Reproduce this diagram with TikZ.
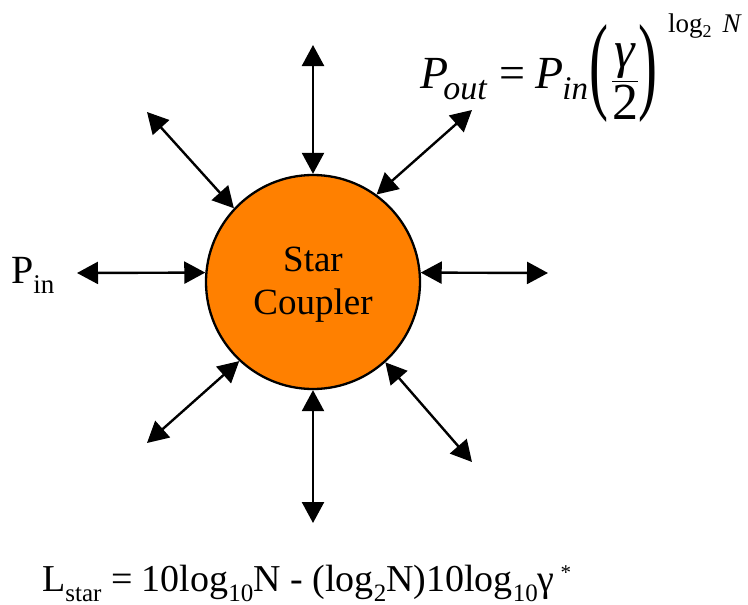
\documentclass[tikz,border=0pt]{standalone}
\usepackage{amsmath}
\usepackage{graphicx}
\usepackage{fontspec}
\setmainfont{Liberation Serif}
\usetikzlibrary{arrows.meta}
\definecolor{starorange}{HTML}{FF8000}
\newcommand\fsz[1]{\fontsize{#1}{#1}\selectfont}
\newcommand\lowsub[3]{\raisebox{-#1}[\height][0pt]{\fsz{#2}#3}}
\newcommand\bigparen[1]{\raisebox{-35pt}{\resizebox*{19pt}{98pt}{\raisebox{\depth}{#1}}}}
\tikzset{
  dbl/.style={line width=2.4pt,{Triangle[length=21pt,width=22pt]}-{Triangle[length=21pt,width=22pt]}},
  coupler/.style={circle,draw=black,line width=2.3pt,fill=starorange,minimum size=214pt,inner sep=0pt},
  lbl/.style={inner sep=0pt,anchor=base west}
}
\begin{document}
\begin{tikzpicture}[x=1pt,y=-1pt]
\useasboundingbox (0,0) rectangle (748,605);
\node[coupler] (c) at (313,282) {};
\node[inner sep=0pt,align=center,font=\fsz{37}] (cl) at (313,285) {Star\\[6pt]Coupler};
% outer ends
\coordinate (ot) at (313,45);
\coordinate (otl) at (147,112);
\coordinate (otr) at (472,110);
\coordinate (ol) at (77,273);
\coordinate (or) at (548,273);
\coordinate (obl) at (147,443);
\coordinate (ob) at (313,523);
\coordinate (obr) at (472,462);
\draw[dbl] (c.90) -- (ot);
\draw[dbl] (c.137) -- (otl);
\draw[dbl] (c.54.5) -- (otr);
\draw[dbl] (c.175) -- (ol);
\draw[dbl] (c.5) -- (or);
\draw[dbl] (c.227) -- (obl);
\draw[dbl] (c.270) -- (ob);
\draw[dbl] (c.312) -- (obr);
% P_in label
\node[lbl,font=\fsz{40}] (pin) at (11,283) {P\lowsub{10pt}{27}{in}};
% top formula
\node[lbl,font=\fsz{46}] (pout) at (420,88) {\textit{P}\kern-5pt\lowsub{12pt}{34}{\textit{out}}\kern12pt=\kern10pt\textit{P}\kern-1pt\lowsub{12pt}{33}{\textit{in}}\kern1pt\bigparen{(}\kern3pt$\dfrac{\raisebox{3pt}{\fsz{52}\textit{γ}}}{\raisebox{-5pt}{\fsz{52}2}}$\kern-1pt\bigparen{)}};
\node[lbl,font=\fsz{27}] (expo) at (668,32) {log\lowsub{5pt}{18}{2}\kern11pt\textit{N}};
% bottom formula
\node[lbl,font=\fsz{38}] (lstar) at (42,591) {L\lowsub{10pt}{25}{star} = 10log\lowsub{10pt}{25}{10}N - (log\lowsub{10pt}{25}{2}N)10log\lowsub{10pt}{25}{10}γ\kern6pt\raisebox{0.3em}{\fsz{21}*}};
\end{tikzpicture}
\end{document}
